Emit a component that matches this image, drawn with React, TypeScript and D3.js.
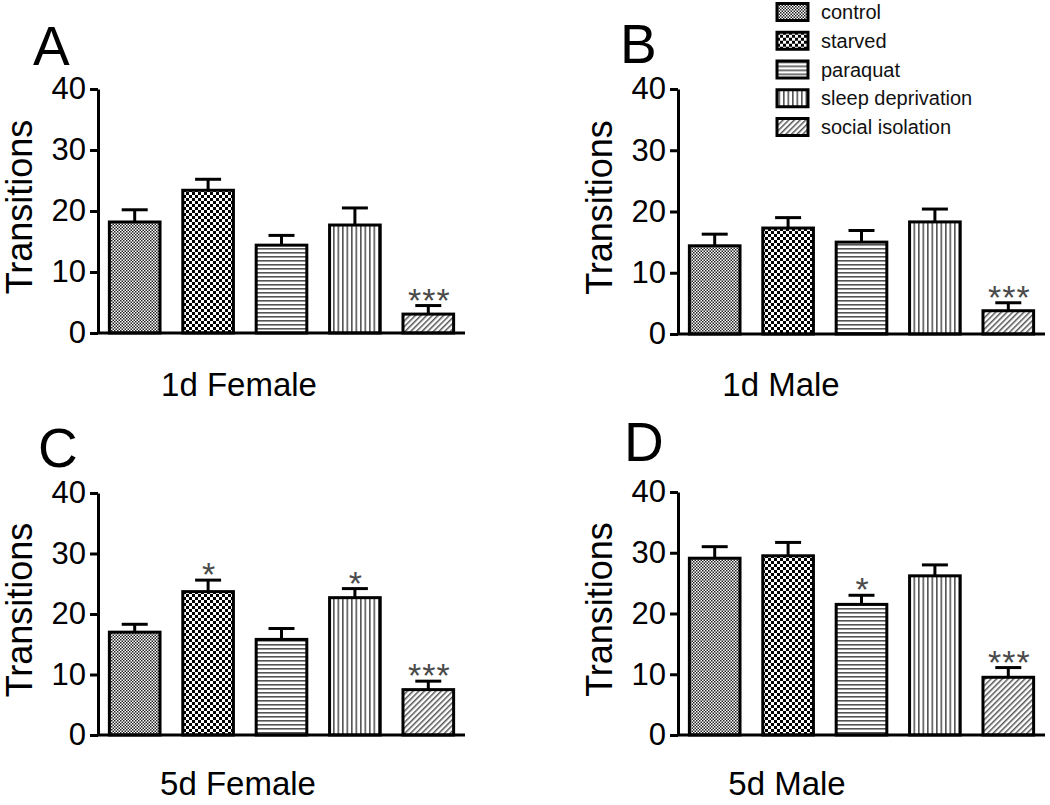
import React from "react";
import * as d3 from "d3";

// treatments, in bar order
const categories = ["control", "starved", "paraquat", "sleep deprivation", "social isolation"];
const patternIds = ["pControl", "pStarved", "pParaquat", "pSleep", "pSocial"];

const panelLetters = ["A", "B", "C", "D"];
const groupLabels = ["1d Female", "1d Male", "5d Female", "5d Male"];

// mean transitions
const meanA = [18.2, 23.4, 14.4, 17.7, 3.1];
const meanB = [14.4, 17.3, 15.0, 18.3, 3.8];
const meanC = [17.0, 23.7, 15.8, 22.7, 7.5];
const meanD = [29.1, 29.5, 21.5, 26.2, 9.5];

// upper error (SEM)
const semA = [2.0, 1.8, 1.6, 2.8, 1.4];
const semB = [1.9, 1.7, 1.9, 2.1, 1.3];
const semC = [1.3, 1.9, 1.8, 1.5, 1.4];
const semD = [1.9, 2.2, 1.5, 1.8, 1.6];

// significance marks
const sigA = ["", "", "", "", "***"];
const sigB = ["", "", "", "", "***"];
const sigC = ["", "*", "", "*", "***"];
const sigD = ["", "", "*", "", "***"];

const yTicks = [0, 10, 20, 30, 40];

const FONT = "'Liberation Sans', Arial, sans-serif";

// layout per panel
const layout = [
  { axisX: 98, y0: 333, yTop: 89, xEnd: 465, letterX: 33, letterY: 65, labelX: 239, labelY: 396 },
  { axisX: 678, y0: 334, yTop: 89, xEnd: 1045, letterX: 620, letterY: 63, labelX: 781, labelY: 396 },
  { axisX: 98, y0: 735, yTop: 493, xEnd: 465, letterX: 38, letterY: 467, labelX: 238, labelY: 795 },
  { axisX: 678, y0: 735, yTop: 492, xEnd: 1045, letterX: 624, letterY: 461, labelX: 787, labelY: 795 },
];

const means = [meanA, meanB, meanC, meanD];
const sems = [semA, semB, semC, semD];
const sigs = [sigA, sigB, sigC, sigD];

function YAxis({ scale, x }) {
  const ref = React.useRef(null);
  React.useEffect(() => {
    const g = d3.select(ref.current);
    g.selectAll("*").remove();
    g.call(d3.axisLeft(scale).tickValues(yTicks).tickSize(8).tickSizeOuter(0).tickPadding(4));
    g.select(".domain").attr("stroke", "#000").attr("stroke-width", 3);
    g.selectAll(".tick line").attr("stroke", "#000").attr("stroke-width", 3);
    g.selectAll(".tick text")
      .attr("font-size", 31)
      .attr("font-family", FONT)
      .attr("fill", "#000");
  }, [scale]);
  return <g ref={ref} transform={`translate(${x},0)`} />;
}

function Panel({ i }) {
  const L = layout[i];
  const y = React.useMemo(
    () => d3.scaleLinear().domain([0, 40]).range([L.y0, L.yTop]),
    [L.y0, L.yTop]
  );
  const x = d3
    .scaleBand()
    .domain(categories)
    .range([L.axisX, L.xEnd])
    .paddingInner(0.31)
    .paddingOuter(0.155);
  const bw = x.bandwidth();
  const capW = 26;

  return (
    <g>
      <text x={L.letterX} y={L.letterY} fontSize={55} fontFamily={FONT}>
        {panelLetters[i]}
      </text>
      <text
        transform={`translate(${L.axisX - 66},${(L.y0 + L.yTop) / 2 - 4}) rotate(-90)`}
        textAnchor="middle"
        fontSize={36}
        fontFamily={FONT}
      >
        Transitions
      </text>
      {categories.map((c, j) => {
        const v = means[i][j];
        const e = v + sems[i][j];
        const cx = x(c) + bw / 2;
        return (
          <g key={c}>
            <line x1={cx} x2={cx} y1={y(v)} y2={y(e)} stroke="#000" strokeWidth={3} />
            <line x1={cx - capW / 2} x2={cx + capW / 2} y1={y(e)} y2={y(e)} stroke="#000" strokeWidth={3} />
            <rect
              x={x(c)}
              y={y(v)}
              width={bw}
              height={y(0) - y(v)}
              fill={`url(#${patternIds[j]})`}
              stroke="#000"
              strokeWidth={3}
            />
            {sigs[i][j] && (
              <text
                x={cx + 1}
                y={y(e) + 6}
                textAnchor="middle"
                fontSize={34}
                letterSpacing={1}
                fontFamily={FONT}
                fill="#4a4a4a"
              >
                {sigs[i][j]}
              </text>
            )}
          </g>
        );
      })}
      <line x1={L.axisX} x2={L.xEnd} y1={y(0)} y2={y(0)} stroke="#000" strokeWidth={3} />
      <YAxis scale={y} x={L.axisX} />
      <text x={L.labelX} y={L.labelY} textAnchor="middle" fontSize={33} fontFamily={FONT}>
        {groupLabels[i]}
      </text>
    </g>
  );
}

function Legend() {
  const rows = d3.scalePoint().domain(categories).range([12, 127]);
  return (
    <g>
      {categories.map((c, j) => (
        <g key={c} transform={`translate(0,${rows(c)})`}>
          <rect x={777} y={-8.5} width={31} height={17} fill={`url(#${patternIds[j]})`} stroke="#000" strokeWidth={3} />
          <text x={821} y={7} fontSize={20} fontFamily={FONT} fill="#111">
            {c}
          </text>
        </g>
      ))}
    </g>
  );
}

export default function App() {
  return (
    <svg
      width={1050}
      height={805}
      style={{ position: "absolute", left: 0, top: 0, background: "#fff" }}
    >
      <defs>
        <pattern id="pControl" width={3} height={3} patternUnits="userSpaceOnUse">
          <rect width={3} height={3} fill="#fff" />
          <rect width={1.5} height={1.5} fill="#222" />
          <rect x={1.5} y={1.5} width={1.5} height={1.5} fill="#222" />
        </pattern>
        <pattern id="pStarved" width={6} height={6} patternUnits="userSpaceOnUse">
          <rect width={6} height={6} fill="#fff" />
          <rect width={3} height={3} fill="#000" />
          <rect x={3} y={3} width={3} height={3} fill="#000" />
        </pattern>
        <pattern id="pParaquat" width={4} height={4} patternUnits="userSpaceOnUse">
          <rect width={4} height={4} fill="#fff" />
          <rect y={0} width={4} height={1.6} fill="#555" />
        </pattern>
        <pattern id="pSleep" width={4.5} height={4.5} patternUnits="userSpaceOnUse">
          <rect width={4.5} height={4.5} fill="#fff" />
          <rect x={0} width={1.6} height={4.5} fill="#555" />
        </pattern>
        <pattern id="pSocial" width={4} height={4} patternUnits="userSpaceOnUse" patternTransform="rotate(45)">
          <rect width={4} height={4} fill="#fff" />
          <rect x={0} width={1.5} height={4} fill="#555" />
        </pattern>
      </defs>
      {layout.map((_, i) => (
        <Panel key={i} i={i} />
      ))}
      <Legend />
    </svg>
  );
}
